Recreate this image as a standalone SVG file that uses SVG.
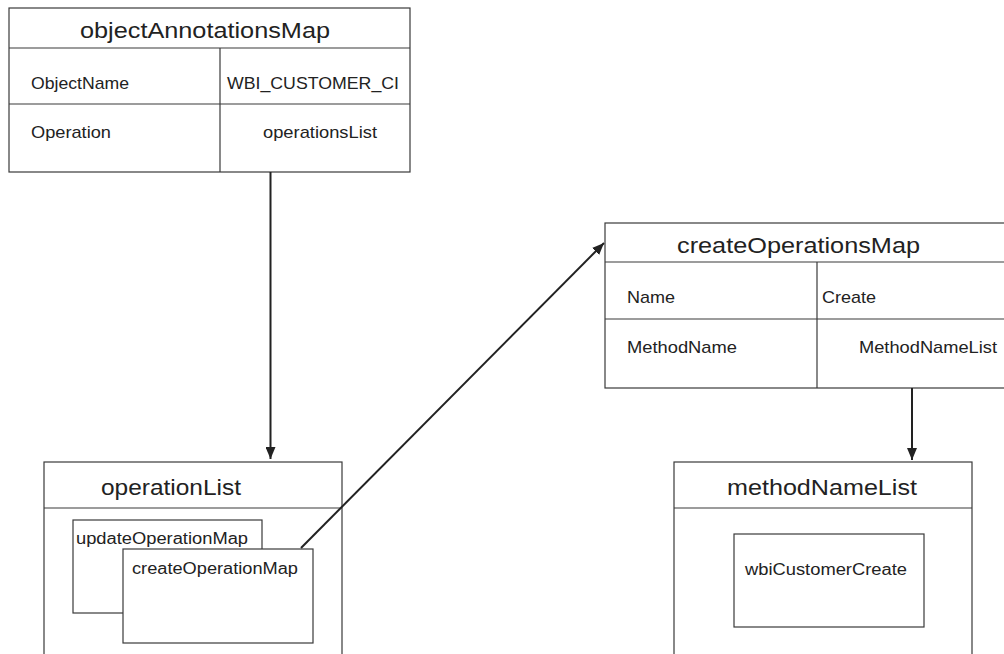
<svg xmlns="http://www.w3.org/2000/svg" width="1004" height="654" viewBox="0 0 1004 654">
<style>
.box{fill:#fff;stroke:#3a3a3a;stroke-width:1.2}
.ln{stroke:#3a3a3a;stroke-width:1.2;fill:none}
.t{font-family:"Liberation Sans",Arial,sans-serif;fill:#222}
.big{font-size:22px}
.mid{font-size:17px}
.sm{font-size:16px}
.conn{stroke:#222;stroke-width:2;fill:none}
</style>
<defs>
<marker id="ah" viewBox="0 0 12 10" refX="12" refY="5" markerWidth="12" markerHeight="10" markerUnits="userSpaceOnUse" orient="auto">
<path d="M0,0 L12,5 L0,10 Z" fill="#222"/>
</marker>
</defs>
<rect width="1004" height="654" fill="#fff"/>
<g id="objectAnnotationsMap">
<rect class="box" x="9" y="8" width="401" height="164"/>
<line class="ln" x1="9" y1="48" x2="410" y2="48"/>
<line class="ln" x1="220" y1="48" x2="220" y2="172"/>
<line class="ln" x1="9" y1="104" x2="410" y2="104"/>
<text class="t big" x="80" y="38" textLength="250" lengthAdjust="spacingAndGlyphs">objectAnnotationsMap</text>
<text class="t mid" x="31" y="89" textLength="98" lengthAdjust="spacingAndGlyphs">ObjectName</text>
<text class="t mid" x="227" y="89" textLength="172" lengthAdjust="spacingAndGlyphs">WBI_CUSTOMER_CI</text>
<text class="t mid" x="31" y="138" textLength="80" lengthAdjust="spacingAndGlyphs">Operation</text>
<text class="t mid" x="263" y="138" textLength="114" lengthAdjust="spacingAndGlyphs">operationsList</text>
</g>
<g id="createOperationsMap">
<rect class="box" x="605" y="223" width="410" height="165"/>
<line class="ln" x1="605" y1="262" x2="1004" y2="262"/>
<line class="ln" x1="817" y1="262" x2="817" y2="388"/>
<line class="ln" x1="605" y1="319" x2="1004" y2="319"/>
<text class="t big" x="677" y="253" textLength="243" lengthAdjust="spacingAndGlyphs">createOperationsMap</text>
<text class="t mid" x="627" y="303" textLength="48" lengthAdjust="spacingAndGlyphs">Name</text>
<text class="t mid" x="822" y="303" textLength="54" lengthAdjust="spacingAndGlyphs">Create</text>
<text class="t mid" x="627" y="353" textLength="110" lengthAdjust="spacingAndGlyphs">MethodName</text>
<text class="t mid" x="859" y="353" textLength="138" lengthAdjust="spacingAndGlyphs">MethodNameList</text>
</g>
<g id="operationList">
<rect class="box" x="44" y="462" width="298" height="200"/>
<line class="ln" x1="44" y1="508" x2="342" y2="508"/>
<text class="t big" x="101" y="495" textLength="140" lengthAdjust="spacingAndGlyphs">operationList</text>
</g>
<g id="updateOperationMap">
<rect class="box" x="73" y="520" width="189" height="93"/>
<text class="t sm" x="76" y="544" textLength="172" lengthAdjust="spacingAndGlyphs">updateOperationMap</text>
</g>
<g id="createOperationMap">
<rect class="box" x="123" y="549" width="190" height="94"/>
<text class="t sm" x="132" y="574" textLength="166" lengthAdjust="spacingAndGlyphs">createOperationMap</text>
</g>
<g id="methodNameList">
<rect class="box" x="674" y="462" width="298" height="200"/>
<line class="ln" x1="674" y1="508" x2="972" y2="508"/>
<text class="t big" x="727" y="495" textLength="190" lengthAdjust="spacingAndGlyphs">methodNameList</text>
</g>
<g id="wbiCustomerCreate">
<rect class="box" x="734" y="534" width="190" height="93"/>
<text class="t sm" x="745" y="575" textLength="162" lengthAdjust="spacingAndGlyphs">wbiCustomerCreate</text>
</g>
<g id="connectors">
<line class="conn" x1="270.5" y1="172" x2="270.5" y2="459" marker-end="url(#ah)"/>
<line class="conn" x1="301" y1="548" x2="604" y2="243" marker-end="url(#ah)"/>
<line class="conn" x1="912" y1="388" x2="912" y2="460" marker-end="url(#ah)"/>
</g>
</svg>
